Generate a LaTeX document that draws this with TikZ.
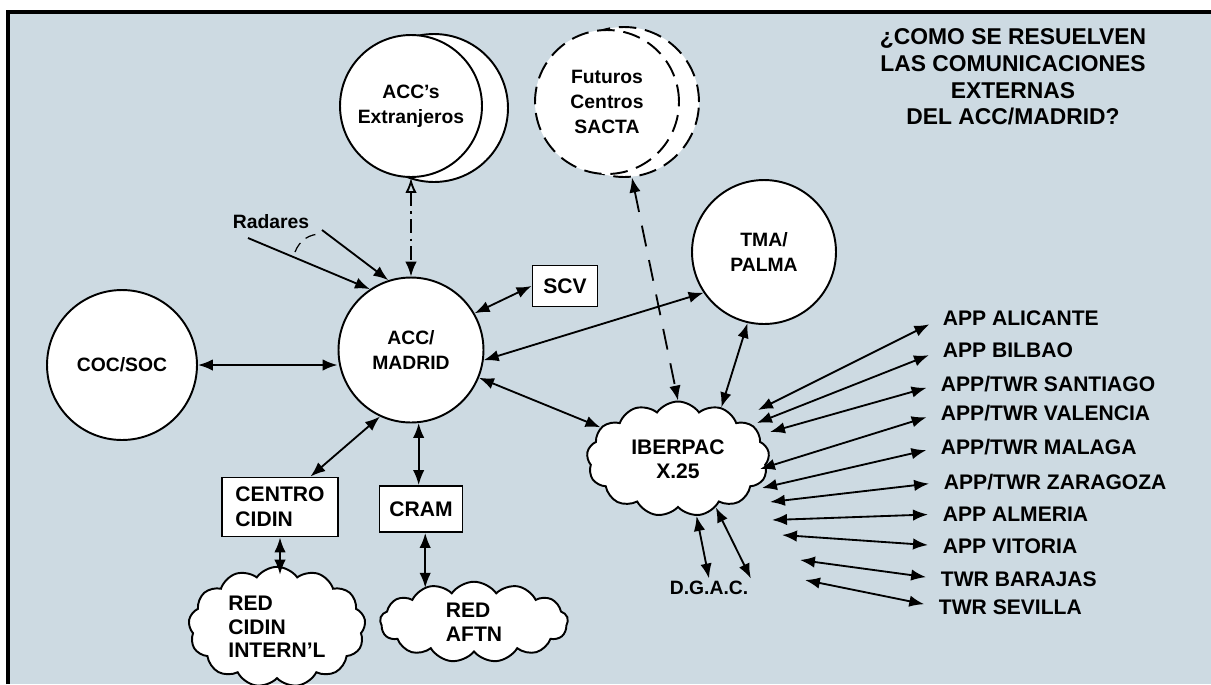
\documentclass[tikz,border=0pt]{standalone}
\usepackage{fontspec}
\setmainfont{Liberation Sans}
\usetikzlibrary{arrows.meta,shapes.symbols}
\definecolor{paper}{RGB}{205,218,226}
\begin{document}
\begin{tikzpicture}[x=0.02cm,y=-0.02cm,line width=1.05pt]
  \tikzstyle{station}=[circle,draw,fill=white,line width=1.1pt,align=center,font=\fontsize{11}{14}\selectfont\bfseries]
  \tikzstyle{sacta}=[dash pattern=on 10pt off 5pt]
  \tikzstyle{box}=[rectangle,draw,fill=white,line width=1.1pt,align=center,font=\fontsize{12}{14}\selectfont\bfseries]
  \tikzstyle{net}=[cloud,cloud puffs=13,cloud puff arc=110,cloud ignores aspect,draw,fill=white,line width=1.1pt,align=left,font=\fontsize{12}{13.5}\selectfont\bfseries]
  \tikzstyle{dest}=[anchor=west,inner sep=0pt,font=\fontsize{12}{14}\selectfont\bfseries]
  \tikzstyle{lbl}=[inner sep=1pt,font=\fontsize{11}{14}\selectfont\bfseries]
  \tikzstyle{link}=[{Latex[length=8.5pt,width=6.5pt]}-{Latex[length=8.5pt,width=6.5pt]}]
  \useasboundingbox (0,0) rectangle (1211,684);
  \fill[paper] (8,12) rectangle (1211,684);
  \draw[line width=1.8pt] (8,684) -- (8,12) -- (1211,12);

  \node[station,minimum size=2.96cm] (extr2) at (434,108) {};
  \node[station,minimum size=2.84cm] (extr) at (411,106) {ACC’s\\Extranjeros};
  \node[station,sacta,minimum size=3.0cm] (sacta2) at (624,102) {};
  \node[station,sacta,minimum size=2.88cm] (sacta) at (607,102) {Futuros\\Centros\\SACTA};
  \node[station,minimum size=2.9cm] (madrid) at (411,350) {ACC/\\MADRID};
  \node[station,minimum size=3.0cm] (coc) at (122,365) {COC/SOC};
  \node[station,minimum size=2.88cm] (palma) at (764,252) {TMA/\\PALMA};

  \node[box,minimum width=1.3cm,minimum height=0.82cm] (scv) at (565,286) {SCV};
  \node[box,align=left,minimum width=2.32cm,minimum height=1.18cm] (cidin) at (280,507) {CENTRO\\CIDIN};
  \node[box,minimum width=1.66cm,minimum height=0.92cm] (cram) at (421,509) {CRAM};

  \node[net,minimum width=3.54cm,minimum height=2.0cm] (redcidin) at (277,627) {RED\\CIDIN\\INTERN’L};
  \node[net,minimum width=3.76cm,minimum height=1.6cm] (aftn) at (474,622) {RED\\AFTN};
  \node[net,align=center,minimum width=3.65cm,minimum height=2.3cm] (iber) at (678,459) {IBERPAC\\X.25};

  \node[lbl] (dgac) at (709,588) {D.G.A.C.};
  \node[lbl] (radar) at (271,222) {Radares};
  \node[align=center,font=\fontsize{13}{15.2}\selectfont\bfseries] (title) at (1013,77)
    {¿COMO SE RESUELVEN\\LAS COMUNICACIONES\\EXTERNAS\\DEL ACC/MADRID?};

  % enlaces del ACC/MADRID
  \draw[link] (coc.east) -- (coc.east -| madrid.west);
  \draw[link] (madrid.30) -- (scv.west);
  \draw[link] (madrid.-8) -- (palma.-146);
  \draw[link] (madrid) -- (iber);
  \draw[link] (madrid.-115) -- (cidin.45);
  \draw[link] (madrid.-84) -- (madrid.-84 |- cram.north);
  \draw[link,shorten >=-5pt] (cidin.south) -- (cidin.south |- redcidin.north);
  \draw[link,shorten >=-4pt] (cram.-80) -- (cram.-80 |- aftn.north);
  \draw[{Latex[open,length=8.5pt,width=6.5pt]}-{Latex[length=8.5pt,width=6.5pt]},dash pattern=on 8pt off 3pt on 1.5pt off 3pt] (extr) -- (madrid);
  \draw[link,dash pattern=on 12pt off 8pt] (sacta2.-84) -- (iber.north);
  \draw[link] (palma.-103) -- (iber.50);
  \draw[link] (iber.-72) -- (dgac.north);
  \draw[link] (iber.-52) -- (dgac.north east);

  % radares
  \coordinate (r1) at (248,238);
  \coordinate (r2) at (322,230);
  \draw[-{Latex[length=8.5pt,width=6.5pt]}] (r1) -- (madrid.124);
  \draw[-{Latex[length=8.5pt,width=6.5pt]}] (r2) -- (madrid.108);
  \draw[line width=0.7pt,dash pattern=on 6pt off 4pt] (295,252) to[bend left=35] (322,234);

  % dependencias
  \foreach \n/\t/\lx/\ly/\sx/\sy in {1/APP ALICANTE/942/318/758/410, 2/APP BILBAO/942/350/757/423,
      3/{APP/TWR SANTIAGO}/940/384/770/432, 4/{APP/TWR VALENCIA}/940/413/760/469,
      5/{APP/TWR MALAGA}/940/447/762/488, 6/{APP/TWR ZARAGOZA}/943/482/770/502,
      7/APP ALMERIA/942/514/772/520, 8/APP VITORIA/942/546/782/535,
      9/TWR BARAJAS/940/579/800/560, 10/TWR SEVILLA/938/607/805/580}
  {
    \node[dest] (app\n) at (\lx,\ly) {\t};
    \coordinate (in\n) at (\sx,\sy);
    \draw[link,shorten >=8pt] (in\n) -- (app\n.west);
  }
\end{tikzpicture}
\end{document}
